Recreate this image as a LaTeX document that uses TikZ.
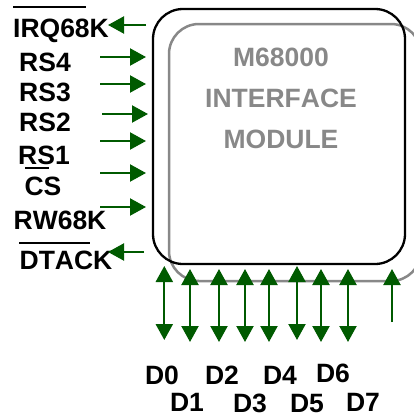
\documentclass[tikz,border=0pt]{standalone}
\usepackage{fontspec}
\setmainfont[Kerning=Off]{Liberation Sans}
\usetikzlibrary{arrows.meta}
\definecolor{sigGreen}{RGB}{0,90,0}
\definecolor{modGray}{RGB}{136,136,136}
\tikzset{
  lab/.style={font=\fontsize{26.5}{28}\selectfont\bfseries, inner sep=0pt, text depth=0pt, text height=18.4pt},
  title/.style={lab, text=modGray},
  sig/.style={draw=sigGreen, line width=2.2pt, -{Triangle[length=16pt,width=17pt]}},
  bus/.style={draw=sigGreen, line width=2.2pt, {Triangle[length=16pt,width=17pt]}-{Triangle[length=16pt,width=17pt]}},
  bar/.style={draw=black, line width=2pt}
}
\begin{document}
\begin{tikzpicture}[x=1pt,y=-1pt]
\useasboundingbox (0,0) rectangle (414,415);
% module outlines
\node[draw=modGray, line width=2.5pt, rounded corners=30pt, minimum width=252pt, minimum height=257pt, inner sep=0pt] (grayBox) at (295,152.5) {};
\node[draw=black, line width=2.3pt, rounded corners=30pt, minimum width=252pt, minimum height=255pt, inner sep=0pt] (blackBox) at (279,136.5) {};
% module title
\node[title] (t1) at (281,57) {M68000};
\node[title] (t2) at (281,98) {INTERFACE};
\node[title] (t3) at (281,139) {MODULE};
% left labels
\node[lab] (irq) at (61,28) {IRQ68K};
\node[lab] (rs4) at (45,62) {RS4};
\node[lab] (rs3) at (45,92) {RS3};
\node[lab] (rs2) at (45,122) {RS2};
\node[lab] (rs1) at (44,155) {RS1};
\node[lab] (cs) at (43,186) {CS};
\node[lab] (rw) at (60,220) {RW68K};
\node[lab] (dtack) at (66,260) {DTACK};
% bars
\coordinate (b1a) at (13,7); \coordinate (b1b) at (86,7);
\coordinate (b2a) at (25,168); \coordinate (b2b) at (49,168);
\coordinate (b3a) at (19,243); \coordinate (b3b) at (90,243);
\draw[bar] (b1a) -- (b1b);
\draw[bar] (b2a) -- (b2b);
\draw[bar] (b3a) -- (b3b);
% left signals
\foreach \n/\xa/\xb/\y in {a/100/146/57, b/100/146/84, c/102/148/114, d/100/146/141, e/100/146/173, f/100/146/207}{
  \coordinate (s\n) at (\xa,\y);
  \coordinate (e\n) at (\xb,\y);
  \draw[sig] (s\n) -- (e\n);
}
\coordinate (irqS) at (146,25); \coordinate (irqE) at (108,25);
\draw[sig] (irqS) -- (irqE);
\coordinate (dtS) at (144,252); \coordinate (dtE) at (108,252);
\draw[sig] (dtS) -- (dtE);
% data bus
\foreach \n/\x/\ya/\yb in {0/164.3/266/340, 1/190/269/342, 2/219/269/342, 3/245/269/342, 4/269/269/342, 5/297/266/340, 6/321/269/342, 7/348/269/342}{
  \coordinate (u\n) at (\x,\ya);
  \coordinate (v\n) at (\x,\yb);
  \draw[bus] (u\n) -- (v\n);
}
\coordinate (upS) at (392,322); \coordinate (upE) at (392,269);
\draw[sig] (upS) -- (upE);
% data labels
\node[lab] (d0) at (162,375) {D0};
\node[lab] (d1) at (187,402.5) {D1};
\node[lab] (d2) at (222,375) {D2};
\node[lab] (d3) at (250,403) {D3};
\node[lab] (d4) at (280,375) {D4};
\node[lab] (d5) at (307,403) {D5};
\node[lab] (d6) at (333,373) {D6};
\node[lab] (d7) at (363,402.5) {D7};
\end{tikzpicture}
\end{document}
